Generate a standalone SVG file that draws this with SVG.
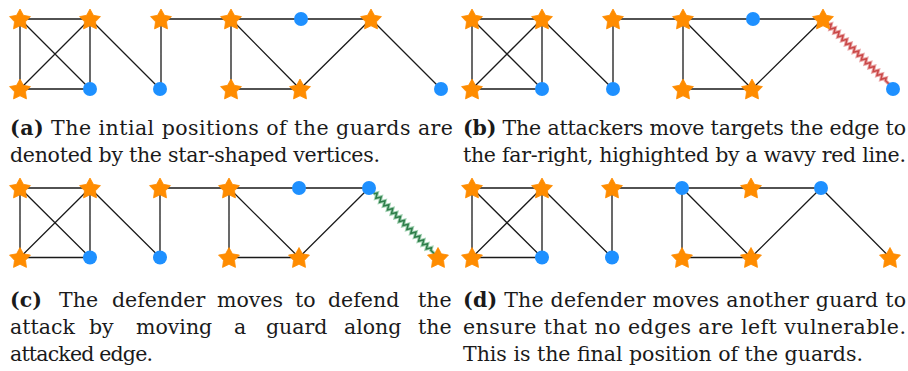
<svg xmlns="http://www.w3.org/2000/svg" xmlns:xlink="http://www.w3.org/1999/xlink" width="908" height="371" viewBox="0 0 908 371">
  <defs>
    <style>
      .edge { stroke: #1a1a1a; stroke-width: 1.3; fill: none; }
      .guard { fill: #ff8c00; stroke: #ff8c00; stroke-width: 0.8; stroke-linejoin: round; }
      .free { fill: #1e90ff; }
      .cap { font-family: "DejaVu Serif", "Liberation Serif", serif; font-size: 20.5px; fill: #1a1a1a; }
      .tag { font-weight: bold; }
      .attack-halo { stroke: #eaa5a5; stroke-width: 3.4; fill: none; stroke-linejoin: miter; }
      .attack { stroke: #c94848; stroke-width: 1.5; fill: none; stroke-linejoin: miter; }
      .defend-halo { stroke: #9fd0b0; stroke-width: 3.4; fill: none; stroke-linejoin: miter; }
      .defend { stroke: #2e7d4a; stroke-width: 1.5; fill: none; stroke-linejoin: miter; }
    </style>
    <path id="star" d="M0,-11 L3.41,-4.69 L10.46,-3.40 L5.51,1.79 L6.47,8.90 L0,5.8 L-6.47,8.90 L-5.51,1.79 L-10.46,-3.40 L-3.41,-4.69 Z"/>
    <!-- zigzag along the local x axis, length about 98 -->
    <path id="zigzag" d="M0,0 H8 l1.375,-2.3 l2.75,4.6 l2.75,-4.6 l2.75,4.6 l2.75,-4.6 l2.75,4.6 l2.75,-4.6 l2.75,4.6 l2.75,-4.6 l2.75,4.6 l2.75,-4.6 l2.75,4.6 l2.75,-4.6 l2.75,4.6 l2.75,-4.6 l2.75,4.6 l2.75,-4.6 l2.75,4.6 l2.75,-4.6 l2.75,4.6 l2.75,-4.6 l2.75,4.6 l2.75,-4.6 l2.75,4.6 l2.75,-4.6 l2.75,4.6 l2.75,-4.6 l2.75,4.6 l2.75,-4.6 l1.375,2.3 H98"/>
  </defs>

  <!-- ===== Panel (a) ===== -->
  <g id="a-edges">
    <path class="edge" d="M20,19 H90 M20,19 V89 M20,19 L90,89 M90,19 L20,89 M90,19 V89 M20,89 H90 M90,19 L160,89 M161,19 V89 M161,19 H231 M231,19 H371 M231,19 V89 M231,19 L300,89 M231,89 H300 M371,19 L300,89 M371,19 L441,89"/>
  </g>
  <g id="a-n1"><use xlink:href="#star" class="guard" x="20" y="20"/></g>
  <g id="a-n2"><use xlink:href="#star" class="guard" x="90" y="20"/></g>
  <g id="a-n3"><use xlink:href="#star" class="guard" x="20" y="90"/></g>
  <g id="a-n4"><circle class="free" cx="90" cy="89" r="7"/></g>
  <g id="a-n5"><use xlink:href="#star" class="guard" x="161" y="20"/></g>
  <g id="a-n6"><circle class="free" cx="160" cy="89" r="7"/></g>
  <g id="a-n7"><use xlink:href="#star" class="guard" x="231" y="20"/></g>
  <g id="a-n8"><circle class="free" cx="301" cy="19" r="7"/></g>
  <g id="a-n9"><use xlink:href="#star" class="guard" x="371" y="20"/></g>
  <g id="a-n10"><use xlink:href="#star" class="guard" x="231" y="90"/></g>
  <g id="a-n11"><use xlink:href="#star" class="guard" x="300" y="90"/></g>
  <g id="a-n12"><circle class="free" cx="441" cy="89" r="7"/></g>

  <!-- ===== Panel (b) ===== -->
  <g id="b-edges">
    <path class="edge" d="M472,19 H542 M472,19 V89 M472,19 L542,89 M542,19 L472,89 M542,19 V89 M472,89 H542 M542,19 L613,89 M613,19 V89 M613,19 H683 M683,19 H823 M683,19 V89 M683,19 L752,89 M683,89 H752 M823,19 L752,89"/>
    <g transform="translate(823,19) rotate(44.59)">
      <use xlink:href="#zigzag" class="attack-halo"/>
      <use xlink:href="#zigzag" class="attack"/>
    </g>
  </g>
  <g id="b-n1"><use xlink:href="#star" class="guard" x="472" y="20"/></g>
  <g id="b-n2"><use xlink:href="#star" class="guard" x="542" y="20"/></g>
  <g id="b-n3"><use xlink:href="#star" class="guard" x="472" y="90"/></g>
  <g id="b-n4"><circle class="free" cx="542" cy="89" r="7"/></g>
  <g id="b-n5"><use xlink:href="#star" class="guard" x="613" y="20"/></g>
  <g id="b-n6"><circle class="free" cx="613" cy="89" r="7"/></g>
  <g id="b-n7"><use xlink:href="#star" class="guard" x="683" y="20"/></g>
  <g id="b-n8"><circle class="free" cx="753" cy="19" r="7"/></g>
  <g id="b-n9"><use xlink:href="#star" class="guard" x="823" y="20"/></g>
  <g id="b-n10"><use xlink:href="#star" class="guard" x="683" y="90"/></g>
  <g id="b-n11"><use xlink:href="#star" class="guard" x="752" y="90"/></g>
  <g id="b-n12"><circle class="free" cx="893" cy="89" r="7"/></g>

  <!-- ===== Panel (c) ===== -->
  <g id="c-edges">
    <path class="edge" d="M20,188 H90 M20,188 V257.5 M20,188 L90,257.5 M90,188 L20,257.5 M90,188 V257.5 M20,257.5 H90 M90,188 L160,257.5 M160,188 V257.5 M160,188 H229 M229,188 H369 M229,188 V257.5 M229,188 L299,257.5 M229,257.5 H299 M369,188 L299,257.5"/>
    <g transform="translate(369,188) rotate(45.2)">
      <use xlink:href="#zigzag" class="defend-halo"/>
      <use xlink:href="#zigzag" class="defend"/>
    </g>
  </g>
  <g id="c-n1"><use xlink:href="#star" class="guard" x="20" y="189"/></g>
  <g id="c-n2"><use xlink:href="#star" class="guard" x="90" y="189"/></g>
  <g id="c-n3"><use xlink:href="#star" class="guard" x="20" y="258.5"/></g>
  <g id="c-n4"><circle class="free" cx="90" cy="257.5" r="7"/></g>
  <g id="c-n5"><use xlink:href="#star" class="guard" x="160" y="189"/></g>
  <g id="c-n6"><circle class="free" cx="160" cy="257.5" r="7"/></g>
  <g id="c-n7"><use xlink:href="#star" class="guard" x="229" y="189"/></g>
  <g id="c-n8"><circle class="free" cx="299" cy="188" r="7"/></g>
  <g id="c-n9"><circle class="free" cx="369" cy="188" r="7"/></g>
  <g id="c-n10"><use xlink:href="#star" class="guard" x="229" y="258.5"/></g>
  <g id="c-n11"><use xlink:href="#star" class="guard" x="299" y="258.5"/></g>
  <g id="c-n12"><use xlink:href="#star" class="guard" x="438" y="258.5"/></g>

  <!-- ===== Panel (d) ===== -->
  <g id="d-edges">
    <path class="edge" d="M472,188 H542 M472,188 V257.5 M472,188 L542,257.5 M542,188 L472,257.5 M542,188 V257.5 M472,257.5 H542 M542,188 L612,257.5 M612,188 V257.5 M612,188 H682 M682,188 H821 M682,188 V257.5 M682,188 L751,257.5 M682,257.5 H751 M821,188 L751,257.5 M821,188 L890,257.5"/>
  </g>
  <g id="d-n1"><use xlink:href="#star" class="guard" x="472" y="189"/></g>
  <g id="d-n2"><use xlink:href="#star" class="guard" x="542" y="189"/></g>
  <g id="d-n3"><use xlink:href="#star" class="guard" x="472" y="258.5"/></g>
  <g id="d-n4"><circle class="free" cx="542" cy="257.5" r="7"/></g>
  <g id="d-n5"><use xlink:href="#star" class="guard" x="612" y="189"/></g>
  <g id="d-n6"><circle class="free" cx="612" cy="257.5" r="7"/></g>
  <g id="d-n7"><circle class="free" cx="682" cy="188" r="7"/></g>
  <g id="d-n8"><use xlink:href="#star" class="guard" x="751" y="189"/></g>
  <g id="d-n9"><circle class="free" cx="821" cy="188" r="7"/></g>
  <g id="d-n10"><use xlink:href="#star" class="guard" x="682" y="258.5"/></g>
  <g id="d-n11"><use xlink:href="#star" class="guard" x="751" y="258.5"/></g>
  <g id="d-n12"><use xlink:href="#star" class="guard" x="890" y="258.5"/></g>

  <!-- ===== Captions ===== -->
  <g id="captions" class="cap">
    <text x="10" y="135" textLength="443" lengthAdjust="spacing"><tspan class="tag">(a)</tspan> The intial positions of the guards are</text>
    <text x="10" y="162" textLength="370" lengthAdjust="spacing">denoted by the star-shaped vertices.</text>

    <text x="463" y="135" textLength="443" lengthAdjust="spacing"><tspan class="tag">(b)</tspan> The attackers move targets the edge to</text>
    <text x="463" y="162" textLength="443" lengthAdjust="spacing">the far-right, highighted by a wavy red line.</text>

    <text y="307"><tspan x="10" class="tag">(c)</tspan> <tspan x="59">The</tspan> <tspan x="112">defender</tspan> <tspan x="217">moves</tspan> <tspan x="295">to</tspan> <tspan x="328">defend</tspan> <tspan x="418">the</tspan></text>
    <text y="334"><tspan x="10">attack</tspan> <tspan x="89">by</tspan> <tspan x="136">moving</tspan> <tspan x="234">a</tspan> <tspan x="266">guard</tspan> <tspan x="344">along</tspan> <tspan x="418">the</tspan></text>
    <text x="10" y="361" textLength="143" lengthAdjust="spacing">attacked edge.</text>

    <text x="463" y="307" textLength="443" lengthAdjust="spacing"><tspan class="tag">(d)</tspan> The defender moves another guard to</text>
    <text x="463" y="334" textLength="443" lengthAdjust="spacing">ensure that no edges are left vulnerable.</text>
    <text x="463" y="361" textLength="400" lengthAdjust="spacing">This is the final position of the guards.</text>
  </g>
</svg>
